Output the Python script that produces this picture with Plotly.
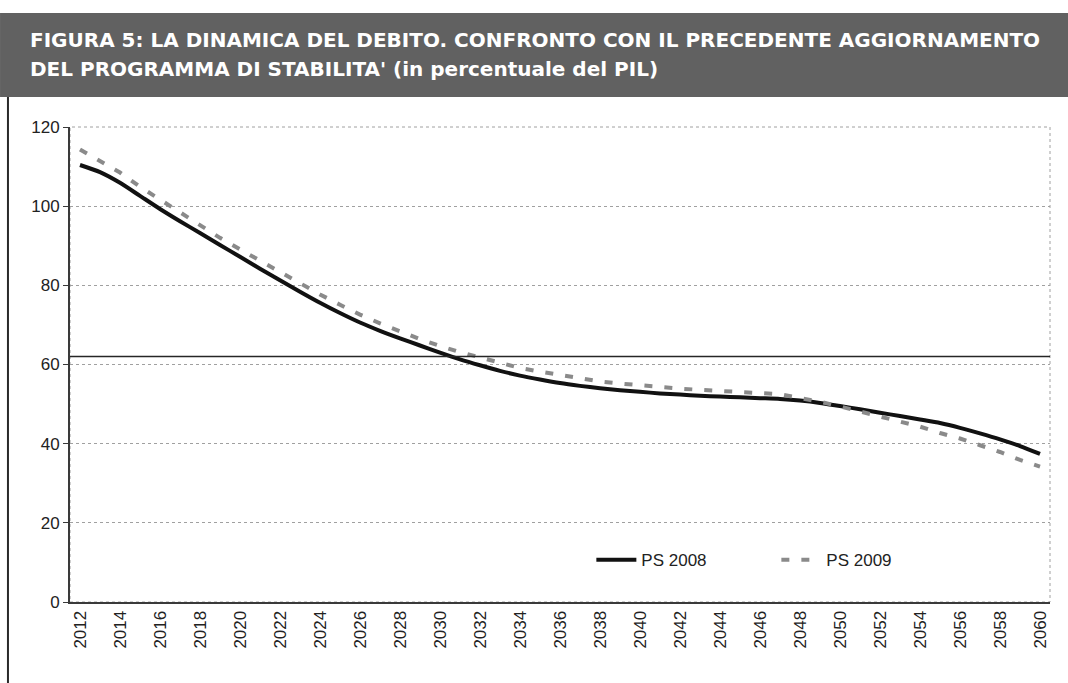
"""Debt dynamics chart: PS 2008 vs PS 2009 (percent of GDP)."""

import plotly.graph_objects as go

years = list(range(2012, 2061))

ps_2008 = [
    110.4, 108.6, 105.9, 102.6, 99.3, 96.2, 93.2, 90.2, 87.2, 84.2,
    81.3, 78.4, 75.6, 73.0, 70.6, 68.5, 66.6, 64.8, 63.0, 61.3,
    59.8, 58.4, 57.2, 56.2, 55.3, 54.6, 54.0, 53.5, 53.1, 52.7,
    52.4, 52.1, 51.9, 51.7, 51.5, 51.3, 50.9, 50.3, 49.5, 48.7,
    47.8, 47.0, 46.1, 45.2, 44.0, 42.6, 41.1, 39.4, 37.4,
]

ps_2009 = [
    114.3, 111.5, 108.5, 104.9, 101.7, 98.3, 95.1, 92.0, 89.1, 86.2,
    83.3, 80.6, 77.7, 75.1, 72.6, 70.4, 68.3, 66.4, 64.7, 63.1,
    61.8, 60.4, 59.1, 58.2, 57.3, 56.4, 55.7, 55.2, 54.7, 54.3,
    53.9, 53.6, 53.3, 53.1, 52.9, 52.5, 51.5, 50.6, 49.4, 48.1,
    46.8, 45.5, 44.3, 42.7, 41.3, 39.6, 37.9, 35.9, 34.2,
]

y_ticks = [0, 20, 40, 60, 80, 100, 120]

title_lines = [
    "FIGURA 5: LA DINAMICA DEL DEBITO. CONFRONTO CON IL PRECEDENTE AGGIORNAMENTO",
    "DEL PROGRAMMA DI STABILITA' (in percentuale del PIL)",
]

COLORS = {
    "dark": "#111111",
    "axis": "#3a3a3a",
    "grid": "#a0a0a0",
    "ps2009": "#8a8a8a",
    "banner": "#616161",
    "text": "#222222",
}

TICK_FONT = dict(family="Liberation Sans, Arial, sans-serif", size=17, color=COLORS["text"])
TITLE_FONT = dict(family="DejaVu Sans, sans-serif", size=20, color="white")

fig = go.Figure()
fig.add_trace(go.Scatter(
    x=years, y=ps_2008, name="PS 2008", mode="lines",
    line=dict(color=COLORS["dark"], width=4, shape="spline", smoothing=0.6),
))
fig.add_trace(go.Scatter(
    x=years, y=ps_2009, name="PS 2009", mode="lines",
    line=dict(color=COLORS["ps2009"], width=4, dash="8px,12px"),
))

shapes = [
    # dotted frame of the plot area (top / right)
    dict(type="rect", xref="paper", yref="paper", x0=0, x1=1, y0=0, y1=1,
         line=dict(color=COLORS["grid"], width=1, dash="dot"), layer="below"),
    # dark horizontal rule near 60
    dict(type="line", xref="paper", yref="y", x0=0, x1=1, y0=62, y1=62,
         line=dict(color="#262626", width=1.5)),
    # title banner
    dict(type="rect", xref="paper", yref="paper", x0=-0.0714, x1=1.0184,
         y0=1.0632, y1=1.2400, fillcolor=COLORS["banner"], line=dict(width=0)),
    # left border of the box
    dict(type="line", xref="paper", yref="paper", x0=-0.0633, x1=-0.0633,
         y0=1.0632, y1=-0.1705, line=dict(color="#2a2a2a", width=2)),
]

annotations = [
    dict(text=f"<b>{title_lines[0]}</b>", xref="paper", yref="paper",
         x=-0.0429, y=1.1832, xanchor="left", yanchor="middle", showarrow=False,
         font=TITLE_FONT),
    dict(text=f"<b>{title_lines[1]}</b>", xref="paper", yref="paper",
         x=-0.0429, y=1.1221, xanchor="left", yanchor="middle", showarrow=False,
         font=TITLE_FONT),
]

fig.update_layout(
    width=1068, height=683,
    margin=dict(l=70, r=18, t=127, b=81),
    plot_bgcolor="white", paper_bgcolor="white",
    showlegend=True,
    legend=dict(orientation="h", x=0.532, y=0.088, xanchor="left", yanchor="middle",
                bgcolor="rgba(0,0,0,0)", font=TICK_FONT, entrywidth=130,
                itemwidth=40),
    xaxis=dict(range=[2011.5, 2060.5], tickmode="linear", tick0=2012, dtick=2,
               tickangle=-90, tickfont=TICK_FONT, showgrid=False, zeroline=False,
               showline=True, linecolor=COLORS["axis"], linewidth=2, ticks=""),
    yaxis=dict(range=[0, 120], tickvals=y_ticks, tickfont=TICK_FONT,
               showgrid=True, gridcolor=COLORS["grid"], griddash="dot", gridwidth=1,
               zeroline=False, showline=True, linecolor=COLORS["axis"], linewidth=2,
               ticks="outside", ticklen=5, tickcolor=COLORS["axis"]),
    shapes=shapes,
    annotations=annotations,
)

# page body has a default 8px margin; drop it so the figure sits at the corner
fig.write_html("out.html", config={"displayModeBar": False},
               post_script="document.body.style.margin='0';")
